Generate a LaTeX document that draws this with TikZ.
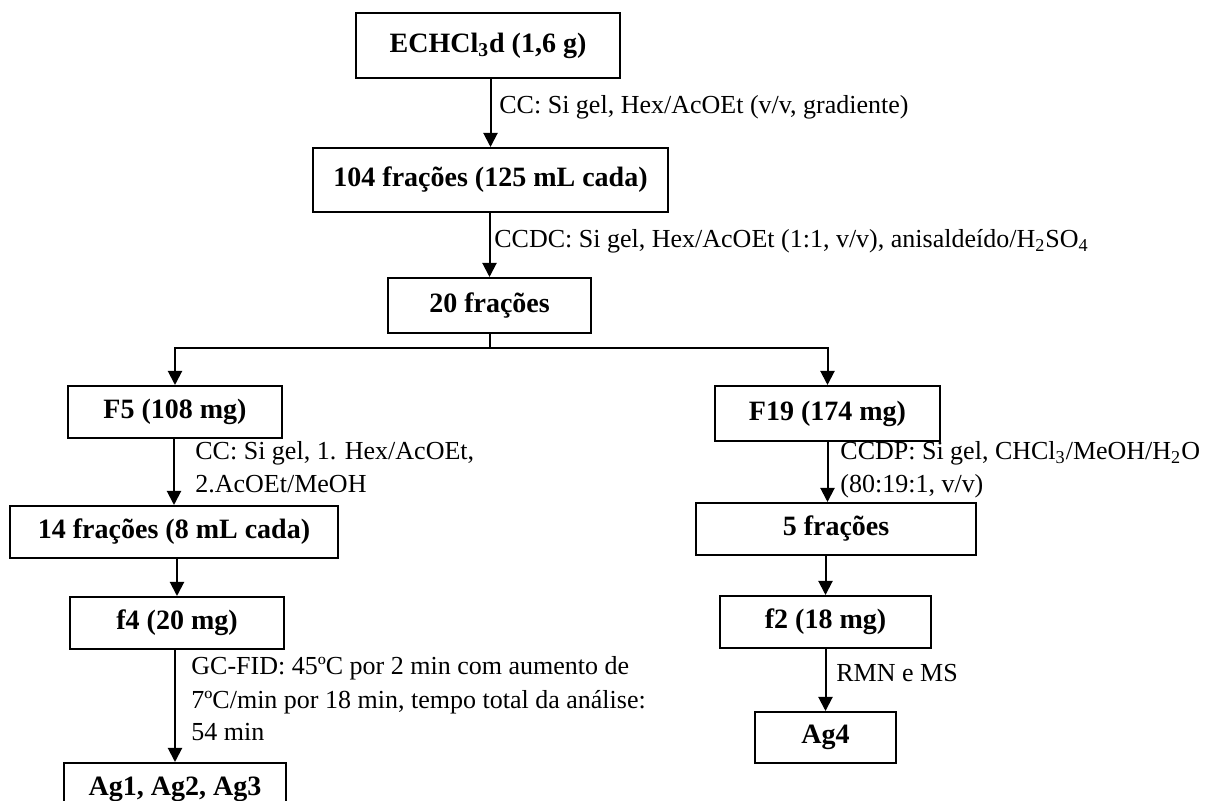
\documentclass[tikz,border=0pt]{standalone}
\usepackage{fontspec}
\setmainfont{Liberation Serif}
\usetikzlibrary{arrows.meta}
\tikzset{
  box/.style={draw, line width=1pt, inner sep=0pt, font=\fontsize{14}{17}\selectfont\bfseries},
  lab/.style={anchor=base west, inner sep=0pt, align=left, font=\fontsize{13}{16.5}\selectfont},
  arr/.style={line width=1pt, -{Triangle[length=7pt,width=7pt]}}
}
\begin{document}
\begin{tikzpicture}[x=0.5pt, y=-0.5pt]
	\useasboundingbox (0,0) rectangle (1211,801);
	\node[box, minimum width=132pt, minimum height=32.5pt] (top) at (488,45.5) {ECHCl\textsubscript{3}d (1,6 g)};
	\node[box, minimum width=177.5pt, minimum height=32pt] (f104) at (490.5,180) {104 frações (125 mL cada)};
	\node[box, minimum width=101.5pt, minimum height=27.5pt] (f20) at (489.5,305.5) {20 frações};
	\node[box, minimum width=107pt, minimum height=26pt] (F5) at (175,412) {F5 (108 mg)};
	\node[box, minimum width=112.5pt, minimum height=27.5pt] (F19) at (827.5,413.5) {F19 (174 mg)};
	\node[box, minimum width=164pt, minimum height=26pt] (f14) at (174,532) {14 frações (8 mL cada)};
	\node[box, minimum width=107pt, minimum height=26pt] (f4) at (177,623) {f4 (20 mg)};
	\node[box, minimum width=111pt, minimum height=26pt] (ag123) at (175,789) {Ag1, Ag2, Ag3};
	\node[box, minimum width=140pt, minimum height=26pt] (f5) at (836,529) {5 frações};
	\node[box, minimum width=105.5pt, minimum height=26pt] (f2) at (825.5,622) {f2 (18 mg)};
	\node[box, minimum width=70.5pt, minimum height=25.5pt] (ag4) at (825.5,737.5) {Ag4};
	\foreach \u/\v in {top/f104, f104/f20, F5/f14, f14/f4, f4/ag123, f5/f2, f2/ag4} {\draw[arr] (\u.south -| \v) -- (\v.north);}
	\draw[arr] (F19.south) -- (F19.south |- f5.north);
	\draw[arr] (f20.south) -- ++(0,14) -| (F5.north);
	\draw[arr] (f20.south) -- ++(0,14) -| (F19.north);
	\node[lab] (lcc) at (499,114) {CC: Si gel, Hex/AcOEt (v/v, gradiente)};
	\node[lab] (lccdc) at (494,248) {CCDC: Si gel, Hex/AcOEt (1:1, v/v), anisaldeído/H\textsubscript{2}SO\textsubscript{4}};
	\node[lab] (lcc2) at (195,493) {CC: Si gel, 1. Hex/AcOEt,\\2.AcOEt/MeOH};
	\node[lab] (lccdp) at (840,493) {CCDP: Si gel, CHCl\textsubscript{3}/MeOH/H\textsubscript{2}O\\(80:19:1, v/v)};
	\node[lab] (lgc) at (191,741) {GC-FID: 45ºC por 2 min com aumento de\\7ºC/min por 18 min, tempo total da análise:\\54 min};
	\node[lab] (lrmn) at (836,682) {RMN e MS};
\end{tikzpicture}
\end{document}
